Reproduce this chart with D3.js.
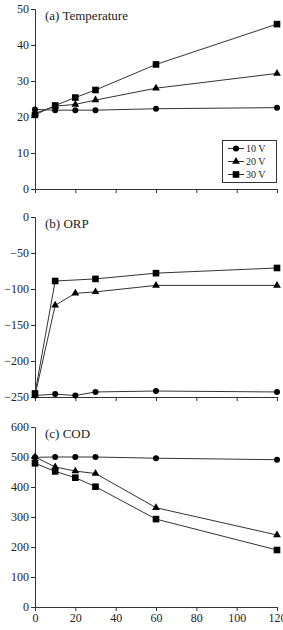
<!DOCTYPE html>
<html>
<head>
<meta charset="utf-8">
<script src="https://cdn.jsdelivr.net/npm/d3@7"></script>
<style>
  body { margin: 0; background: #fff; }
  svg text { font-family: "Liberation Serif", serif; fill: #222; }
</style>
</head>
<body>
<script>
const times = [0, 10, 20, 30, 60, 120];
const seriesNames = ["10 V", "20 V", "30 V"];
const markers = ["circle", "triangle", "square"];

// temperature (C)
const temp10 = [22.1, 21.9, 21.9, 21.9, 22.3, 22.6];
const temp20 = [21, 23, 23.5, 24.7, 28, 32.1];
const temp30 = [20.6, 23.2, 25.4, 27.5, 34.6, 45.8];

// ORP (mV), null = no point
const orp10 = [-248, -246, -248, -243, -241.7, -243];
const orp20 = [-248, -122.7, -106, -104, -95, -95];
const orp30 = [-245, -88.9, null, -86, -78, -70.8];

// COD (mg/L)
const cod10 = [499, 500, 500, 500, 496, 491];
const cod20 = [500, 467, 453, 445, 331, 240];
const cod30 = [479, 452, 431, 401, 293, 190];

const xTicks = [0, 20, 40, 60, 80, 100, 120];

const panels = [
  {title: "(a) Temperature", domain: [0, 50], ticks: [0, 10, 20, 30, 40, 50], top: 9, bottom: 189, series: [temp10, temp20, temp30], legend: true, xLabels: false},
  {title: "(b) ORP", domain: [-250, 0], ticks: [-250, -200, -150, -100, -50, 0], top: 217, bottom: 397, series: [orp10, orp20, orp30], legend: false, xLabels: false},
  {title: "(c) COD", domain: [0, 600], ticks: [0, 100, 200, 300, 400, 500, 600], top: 427, bottom: 607, series: [cod10, cod20, cod30], legend: false, xLabels: true}
];

const svg = d3.select("body").append("svg").attr("width", 283).attr("height", 630);

const x = d3.scaleLinear().domain([0, 120]).range([35, 277]);

function drawMarker(g, type, cx, cy) {
  if (type === "circle") {
    g.append("circle").attr("cx", cx).attr("cy", cy).attr("r", 3).attr("fill", "#000");
  } else if (type === "triangle") {
    g.append("path").attr("d", d3.symbol().type(d3.symbolTriangle).size(26)())
      .attr("transform", `translate(${cx},${cy})`).attr("fill", "#000");
  } else {
    g.append("rect").attr("x", cx - 3.3).attr("y", cy - 3.3).attr("width", 6.6).attr("height", 6.6).attr("fill", "#000");
  }
}

const fmt = d => d < 0 ? "\u2212" + Math.abs(d) : d;

panels.forEach(p => {
  const y = d3.scaleLinear().domain(p.domain).range([p.bottom, p.top]);
  const g = svg.append("g");

  const yAxis = g.append("g").attr("transform", "translate(35,0)")
    .call(d3.axisLeft(y).tickValues(p.ticks).tickSize(4).tickPadding(2).tickFormat(fmt));
  const xAxis = g.append("g").attr("transform", `translate(0,${p.bottom})`)
    .call(d3.axisBottom(x).tickValues(xTicks).tickSize(4).tickPadding(2)
      .tickFormat(p.xLabels ? d => d : ""));

  [yAxis, xAxis].forEach(a => {
    a.attr("font-family", "Liberation Serif").attr("font-size", 12);
    a.selectAll("path, line").attr("stroke", "#333").attr("stroke-width", 1);
    a.selectAll("text").attr("fill", "#333");
  });

  g.append("text").attr("x", 45).attr("y", p.top + 11).attr("font-size", 13).text(p.title);

  const line = d3.line().x(d => x(d.t)).y(d => y(d.v));
  p.series.forEach((vals, i) => {
    const pts = vals.map((v, j) => ({t: times[j], v})).filter(d => d.v !== null);
    g.append("path").datum(pts)
      .attr("d", line).attr("fill", "none").attr("stroke", "#333").attr("stroke-width", 1);
    pts.forEach(d => drawMarker(g, markers[i], x(d.t), y(d.v)));
  });

  if (p.legend) {
    const lg = g.append("g");
    lg.append("rect").attr("x", 222.5).attr("y", 140.5).attr("width", 54).attr("height", 42)
      .attr("fill", "#fff").attr("stroke", "#333").attr("stroke-width", 1);
    seriesNames.forEach((name, i) => {
      const cy = 148.5 + i * 13;
      lg.append("line").attr("x1", 228).attr("x2", 244).attr("y1", cy).attr("y2", cy)
        .attr("stroke", "#333").attr("stroke-width", 1);
      drawMarker(lg, markers[i], 236, cy);
      lg.append("text").attr("x", 246).attr("y", cy + 3.5).attr("font-size", 10).text(name);
    });
  }
});
</script>
</body>
</html>
